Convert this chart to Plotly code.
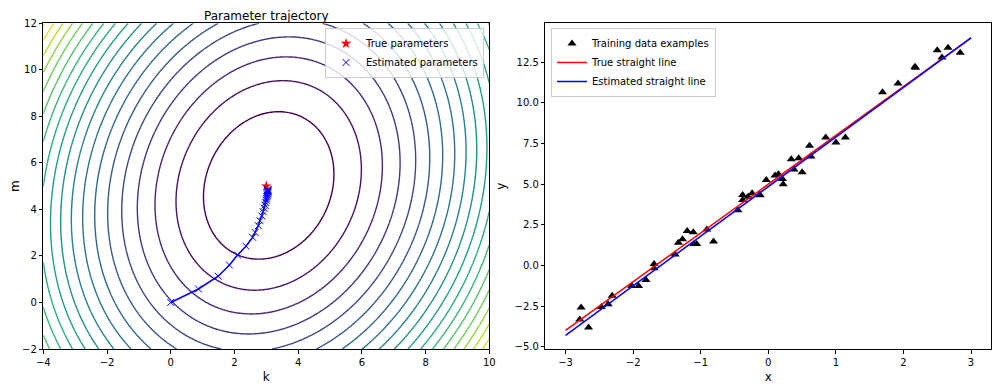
import numpy as np
import plotly.graph_objects as go

# ---- data ----
x_train = [-2.77, -2.79, -2.66, -2.47, -2.37, -2.31, -2.02, -1.92, -1.81, -1.69,
           -1.69, -1.38, -1.33, -1.27, -1.20, -1.11, -1.10, -1.06, -0.91, -0.81,
           -0.45, -0.38, -0.38, -0.30, -0.24, -0.13, -0.12, -0.03, 0.10, 0.15,
           0.21, 0.22, 0.34, 0.38, 0.45, 0.50, 0.61, 0.63, 0.85, 1.00,
           1.14, 1.69, 1.92, 2.17, 2.18, 2.50, 2.57, 2.66, 2.84]
y_train = [-2.58, -3.32, -3.81, -2.56, -2.39, -1.86, -1.27, -1.27, -0.89, 0.09,
           -0.17, 0.68, 1.40, 1.61, 2.12, 2.04, 1.32, 1.32, 2.22, 1.48,
           3.39, 4.34, 4.03, 4.23, 4.44, 4.34, 4.32, 5.26, 5.53, 5.61,
           5.32, 5.00, 6.53, 5.91, 6.59, 5.73, 7.37, 6.70, 7.88, 7.56,
           7.88, 10.65, 11.20, 12.23, 12.17, 13.24, 12.79, 13.40, 13.09]

k_true = 3.0
m_true = 5.0

traj_k = [0.00, 0.87, 1.49, 1.84, 2.10, 2.36, 2.57, 2.65, 2.75, 2.80, 2.86, 2.90,
          2.93, 2.96, 2.98, 3.00, 3.01, 3.02, 3.03, 3.04, 3.04, 3.05, 3.05, 3.05,
          3.05, 3.05, 3.05]
traj_m = [0.00, 0.58, 1.13, 1.61, 2.04, 2.42, 2.80, 3.01, 3.30, 3.52, 3.72, 3.90,
          4.05, 4.18, 4.30, 4.40, 4.48, 4.55, 4.61, 4.66, 4.70, 4.74, 4.77, 4.80,
          4.82, 4.84, 4.85]

line_x = [-3, 3]
k_range = [-4, 10]
m_range = [-2, 12]
level_step = 10

# ---- loss surface ----
xt = np.array(x_train)
yt = np.array(y_train)
kg = np.linspace(k_range[0], k_range[1], 281)
mg = np.linspace(m_range[0], m_range[1], 281)
K, M = np.meshgrid(kg, mg)
Z = ((K[..., None] * xt + M[..., None] - yt) ** 2).mean(axis=-1)
lev_start = level_step
lev_end = np.floor(Z.max() / level_step) * level_step

FONT = "DejaVu Sans"
fig = go.Figure()

fig.add_trace(go.Contour(
    x=kg, y=mg, z=Z, xaxis="x", yaxis="y",
    contours=dict(coloring="lines", start=lev_start, end=lev_end, size=level_step),
    colorscale="Viridis", zmin=lev_start, zmax=lev_end, zauto=False,
    line=dict(width=1.4), showscale=False, showlegend=False, hoverinfo="skip"))

fig.add_trace(go.Scatter(x=traj_k, y=traj_m, mode="lines", xaxis="x", yaxis="y",
                         line=dict(color="blue", width=1.5), showlegend=False))
fig.add_trace(go.Scatter(x=[k_true], y=[m_true], mode="markers", xaxis="x", yaxis="y",
                         name="True parameters", legend="legend",
                         marker=dict(symbol="star", color="red", size=8)))
fig.add_trace(go.Scatter(x=traj_k, y=traj_m, mode="markers", xaxis="x", yaxis="y",
                         name="Estimated parameters", legend="legend",
                         marker=dict(symbol="x-thin", size=7,
                                     line=dict(color="blue", width=1))))

k_est = traj_k[-1]
m_est = traj_m[-1]
fig.add_trace(go.Scatter(x=x_train, y=y_train, mode="markers", xaxis="x2", yaxis="y2",
                         name="Training data examples", legend="legend2",
                         marker=dict(symbol="triangle-up", color="black", size=8)))
fig.add_trace(go.Scatter(x=line_x, y=[k_true * v + m_true for v in line_x], mode="lines",
                         xaxis="x2", yaxis="y2", name="True straight line", legend="legend2",
                         line=dict(color="red", width=1.5)))
fig.add_trace(go.Scatter(x=line_x, y=[k_est * v + m_est for v in line_x], mode="lines",
                         xaxis="x2", yaxis="y2", name="Estimated straight line", legend="legend2",
                         line=dict(color="blue", width=1.5)))

# page body has an 8px margin: lay out in window pixels, converted to figure fractions
OFF = 8
W, H = 1001 - OFF, 387 - OFF


def fx(px):
    return (px - OFF) / W


def fy(py):
    return 1 - (py - OFF) / H


ydom = [fy(349), fy(23.3)]
axis_common = dict(showline=True, mirror=True, linecolor="black", linewidth=1,
                   ticks="outside", ticklen=3.5, tickcolor="black", showgrid=False,
                   zeroline=False, automargin=False,
                   tickfont=dict(size=10, color="black", family=FONT))

fig.update_layout(
    width=W, height=H, margin=dict(l=0, r=0, t=0, b=0, autoexpand=False),
    paper_bgcolor="white", plot_bgcolor="white",
    font=dict(family=FONT, size=10, color="black"),
    xaxis=dict(domain=[fx(43.3), fx(489.3)], range=k_range, dtick=2, anchor="y",
               title=dict(text="k", standoff=6), **axis_common),
    yaxis=dict(domain=ydom, range=m_range, dtick=2, anchor="x",
               title=dict(text="m", standoff=12), **axis_common),
    xaxis2=dict(domain=[fx(545.3), fx(991.3)], range=[-3.30, 3.30], dtick=1, anchor="y2",
                title=dict(text="x", standoff=6), **axis_common),
    yaxis2=dict(domain=ydom, range=[-5.14, 14.9], tick0=-5, dtick=2.5, tickformat=".1f",
                anchor="x2", title=dict(text="y", standoff=6), **axis_common),
    legend=dict(x=fx(484), xanchor="right", y=fy(28), yanchor="top",
                bgcolor="rgba(255,255,255,0.8)", bordercolor="#cccccc", borderwidth=1,
                font=dict(size=10, family=FONT), tracegroupgap=0, itemwidth=30),
    legend2=dict(x=fx(551), xanchor="left", y=fy(28), yanchor="top",
                 bgcolor="rgba(255,255,255,0.8)", bordercolor="#cccccc", borderwidth=1,
                 font=dict(size=10, family=FONT), tracegroupgap=0, itemwidth=30),
    annotations=[dict(text="Parameter trajectory", x=fx((43.3 + 489.3) / 2), y=1.0,
                      xref="paper", yref="paper", showarrow=False,
                      font=dict(size=12, family=FONT, color="black"),
                      xanchor="center", yanchor="top", borderpad=0)],
)

fig.write_html("out.html")
